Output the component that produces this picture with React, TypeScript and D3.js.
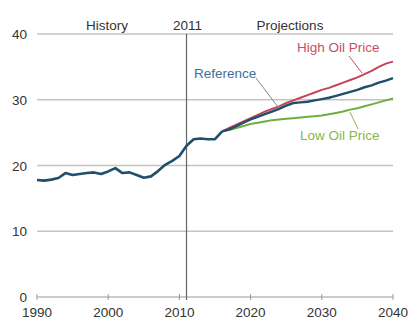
import React from "react";
import * as d3 from "d3";

const historyYears = d3.range(1990, 2017);
const historyValues = [
  17.8, 17.7, 17.85, 18.1, 18.85, 18.55, 18.7, 18.85, 18.95, 18.7,
  19.1, 19.6, 18.85, 18.95, 18.55, 18.15, 18.35, 19.15, 20.1, 20.7,
  21.45, 23.0, 24.0, 24.1, 24.0, 24.0, 25.2,
];
const projYears = d3.range(2016, 2041);
const referenceValues = [
  25.2, 25.5, 26.0, 26.5, 27.0, 27.4, 27.8, 28.2, 28.6, 29.1,
  29.5, 29.6, 29.7, 29.9, 30.1, 30.3, 30.6, 30.9, 31.2, 31.5,
  31.9, 32.2, 32.6, 32.9, 33.3,
];
const highValues = [
  25.2, 25.7, 26.2, 26.7, 27.2, 27.7, 28.2, 28.6, 29.0, 29.5,
  29.9, 30.3, 30.7, 31.1, 31.5, 31.8, 32.2, 32.6, 33.0, 33.4,
  33.9, 34.4, 35.0, 35.5, 35.8,
];
const lowValues = [
  25.2, 25.4, 25.7, 26.0, 26.3, 26.5, 26.7, 26.9, 27.0, 27.1,
  27.2, 27.3, 27.4, 27.5, 27.6, 27.8, 28.0, 28.2, 28.5, 28.7,
  29.0, 29.3, 29.6, 29.9, 30.2,
];
const xTicks = [1990, 2000, 2010, 2020, 2030, 2040];
const yTicks = [0, 10, 20, 30, 40];

const W = 415;
const H = 327;
const x = d3.scaleLinear().domain([1990, 2040]).range([37, 393]);
const y = d3.scaleLinear().domain([0, 40]).range([297, 34]);
const line = d3
  .line<[number, number]>()
  .x((d) => x(d[0]))
  .y((d) => y(d[1]))
  .curve(d3.curveLinear);

const zip = (a: number[], b: number[]) => a.map((v, i) => [v, b[i]] as [number, number]);

const FONT = "Liberation Sans, Arial, sans-serif";
const TEXT = "#333";

export default function App() {
  return (
    <svg
      width={W}
      height={H}
      style={{ position: "absolute", left: 0, top: 0, background: "#fff" }}
      fontFamily={FONT}
      fontSize={13.5}
    >
      {yTicks.filter((t) => t > 0).map((t) => (
        <line key={t} x1={x(1990)} x2={x(2040)} y1={y(t)} y2={y(t)} stroke="#c4c4c4" strokeWidth={1.3} />
      ))}
      {yTicks.map((t) => (
        <text key={t} x={27} y={y(t) + 5} textAnchor="end" fill={TEXT}>
          {t}
        </text>
      ))}
      <line x1={x(1990)} x2={x(2040)} y1={y(0)} y2={y(0)} stroke="#999" strokeWidth={1.2} />
      {xTicks.map((t) => (
        <g key={t}>
          <line x1={x(t)} x2={x(t)} y1={y(0) - 3} y2={y(0) + 3} stroke="#999" strokeWidth={1} />
          <text x={x(t)} y={y(0) + 20} textAnchor="middle" fill={TEXT}>
            {t}
          </text>
        </g>
      ))}
      <line x1={x(2011)} x2={x(2011)} y1={y(40)} y2={y(0) + 3} stroke="#666" strokeWidth={1.2} />
      <text x={107} y={30} textAnchor="middle" fill={TEXT}>History</text>
      <text x={x(2011) + 1} y={30} textAnchor="middle" fill={TEXT}>2011</text>
      <text x={290} y={30} textAnchor="middle" fill={TEXT}>Projections</text>

      <path d={line(zip(projYears, lowValues)) || ""} fill="none" stroke="#6fae3e" strokeWidth={2} />
      <path d={line(zip(projYears, highValues)) || ""} fill="none" stroke="#c3455a" strokeWidth={2} />
      <path d={line(zip(projYears, referenceValues)) || ""} fill="none" stroke="#1f4f6a" strokeWidth={2.4} />
      <path d={line(zip(historyYears, historyValues)) || ""} fill="none" stroke="#1f4f6a" strokeWidth={2.6} strokeLinejoin="round" />

      <text x={297} y={52} fill="#c8505f">High Oil Price</text>
      <line x1={349} y1={56} x2={362} y2={73} stroke="#c8505f" strokeWidth={1} />
      <text x={194} y={78} fill="#3f6fa3">Reference</text>
      <line x1={256} y1={78} x2={278} y2={107} stroke="#7a8a99" strokeWidth={1} />
      <text x={300} y={140} fill="#88b848">Low Oil Price</text>
      <line x1={350} y1={112} x2={358} y2={129} stroke="#88b848" strokeWidth={1} />
    </svg>
  );
}
